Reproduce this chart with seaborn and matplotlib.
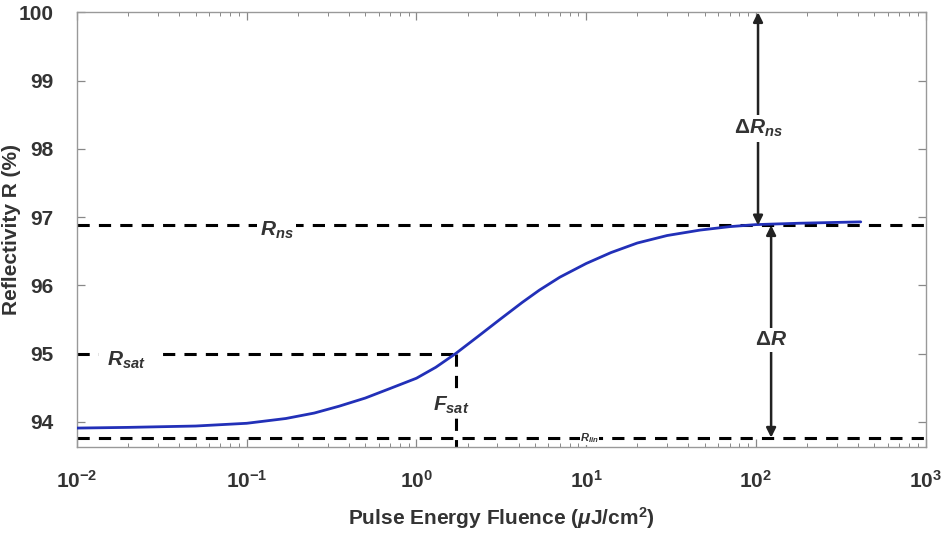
import matplotlib
matplotlib.use("Agg")
import matplotlib.pyplot as plt
import seaborn as sns
import pandas as pd
from matplotlib.ticker import LogLocator, FixedLocator

# values
fluence = [0.01, 0.02, 0.05, 0.1, 0.17, 0.25, 0.35, 0.5, 0.7, 1.0, 1.3, 1.7,
           2.3, 3.1, 4.2, 5.3, 7.0, 10, 14, 20, 30, 47, 70, 100, 180, 415]
reflectivity = [93.91, 93.92, 93.94, 93.98, 94.05, 94.13, 94.23, 94.35, 94.49,
                94.64, 94.8, 95.0, 95.25, 95.5, 95.75, 95.93, 96.12, 96.32,
                96.48, 96.62, 96.73, 96.81, 96.86, 96.89, 96.91, 96.93]

r_ns = 96.88
r_sat = 95.0
r_lin = 93.77
f_sat = 1.7
y_top = 100.0

x_ticks = [1e-2, 1e-1, 1e0, 1e1, 1e2, 1e3]
x_exps = ["-2", "-1", "0", "1", "2", "3"]
y_ticks = [94, 95, 96, 97, 98, 99, 100]

df = pd.DataFrame({"fluence": fluence, "R": reflectivity})

sns.set_style("white")
plt.rcParams["font.family"] = ["Liberation Sans", "DejaVu Sans"]
plt.rcParams["mathtext.fontset"] = "custom"
plt.rcParams["mathtext.it"] = "Liberation Sans:italic:bold"
plt.rcParams["mathtext.rm"] = "Liberation Sans:bold"

fig = plt.figure(figsize=(9.46, 5.33), dpi=100)
ax = fig.add_axes([0.0814, 0.161, 0.897, 0.816])

dash = dict(color="black", lw=2.2, ls=(0, (4, 3)))
ax.plot([1e-2, 1e3], [r_ns, r_ns], **dash, zorder=2)
ax.plot([1e-2, 1e3], [r_lin, r_lin], **dash, zorder=2)
ax.plot([1e-2, f_sat], [r_sat, r_sat], **dash, zorder=2)
ax.plot([f_sat, f_sat], [r_sat, 93.63], **dash, zorder=2)

sns.lineplot(data=df, x="fluence", y="R", color="#2230b8", lw=2.0, ax=ax,
             zorder=3)

ax.set_xscale("log")
ax.set_xlim(1e-2, 1e3)
ax.set_ylim(93.63, 100)

# arrows
arrow = dict(arrowstyle="<|-|>", color="#222222", lw=1.8, mutation_scale=14,
             shrinkA=0, shrinkB=0)
ax.annotate("", xy=(103, y_top), xytext=(103, r_ns), arrowprops=arrow)
ax.annotate("", xy=(123, r_ns), xytext=(123, r_lin), arrowprops=arrow)

box = dict(facecolor="white", edgecolor="none", pad=2)
ax.text(103, 98.3, r"$\Delta R_{ns}$", ha="center", va="center", fontsize=15,
        color="#333333", bbox=box, zorder=5)
ax.text(123, 95.2, r"$\Delta R$", ha="center", va="center", fontsize=15,
        color="#333333", bbox=box, zorder=5)
ax.text(0.15, 96.8, r"$R_{ns}$", ha="center", va="center", fontsize=15,
        color="#333333", bbox=box, zorder=5)
ax.text(0.0195, 94.9, r"$R_{sat}$", ha="center", va="center", fontsize=15,
        color="#333333", bbox=dict(facecolor="white", edgecolor="none", pad=6),
        zorder=5)
ax.text(1.6, 94.25, r"$F_{sat}$", ha="center", va="center", fontsize=15,
        color="#333333", bbox=dict(facecolor="white", edgecolor="none", pad=0),
        zorder=5)
ax.text(10.5, r_lin, r"$R_{lin}$", ha="center", va="center", fontsize=8,
        color="#333333", bbox=dict(facecolor="white", edgecolor="none", pad=0),
        zorder=5)

ax.set_xticks(x_ticks)
ax.set_xticklabels([r"$\mathregular{10^{%s}}$" % s for s in x_exps])
ax.xaxis.set_minor_locator(LogLocator(base=10, subs=range(2, 10), numticks=20))
ax.yaxis.set_major_locator(FixedLocator(y_ticks))
ax.set_yticklabels([str(v) for v in y_ticks])

ax.tick_params(which="both", direction="in", top=True, right=True,
               bottom=True, left=True,
               colors="#888888", labelcolor="#333333", labelsize=15)
ax.tick_params(which="major", length=6, width=0.9)
ax.tick_params(which="minor", length=3, width=0.7)
ax.tick_params(axis="x", pad=16)
ax.tick_params(axis="y", pad=17)
for lab in ax.get_xticklabels() + ax.get_yticklabels():
    lab.set_fontweight("bold")
for sp in ax.spines.values():
    sp.set_color("#999999")
    sp.set_linewidth(1.0)

ax.set_xlabel(r"Pulse Energy Fluence ($\mu$J/cm$^\mathregular{2}$)",
              fontsize=15, fontweight="bold", color="#333333", labelpad=10)
ax.set_ylabel("Reflectivity R (%)", fontsize=15, fontweight="bold",
              color="#333333")
ax.yaxis.set_label_coords(-0.066, 0.5)

fig.savefig("out.png", dpi=100)
